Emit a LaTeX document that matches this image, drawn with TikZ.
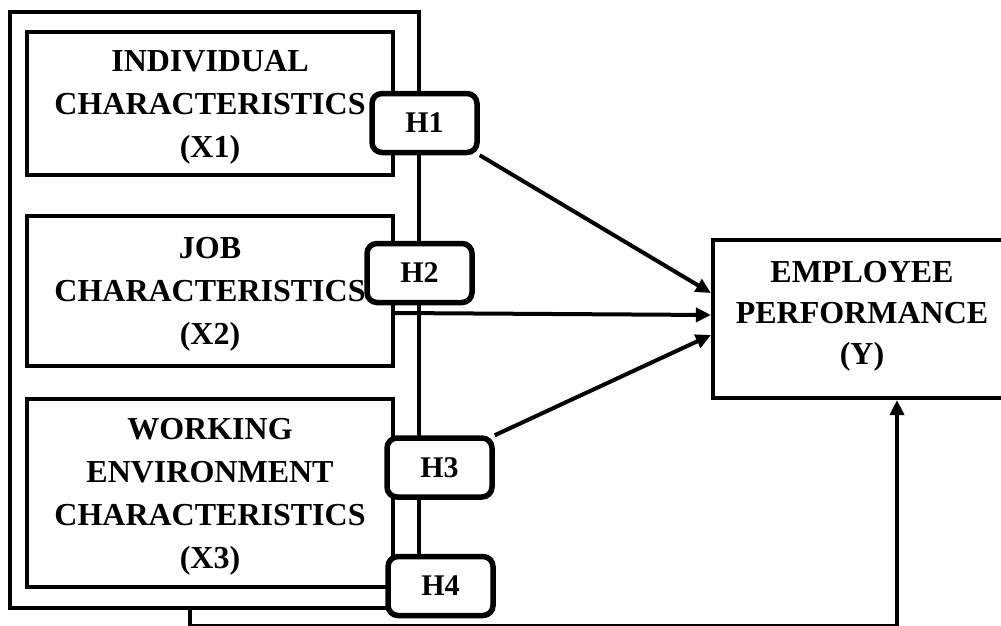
\documentclass[tikz,border=0pt]{standalone}
\usepackage{fontspec}
\setmainfont{Liberation Serif}
\usetikzlibrary{arrows.meta}
\begin{document}
\begin{tikzpicture}[x=1pt,y=-1pt,
  line width=4.2pt,
  varbox/.style={draw, rectangle, inner sep=0pt, align=center, text depth=0pt, font=\bfseries\fontsize{32}{43}\selectfont},
  plainbox/.style={draw, rectangle, inner sep=0pt},
  hbox/.style={draw, fill=white, rounded corners=10pt, line width=5.5pt, minimum width=105pt, minimum height=59pt, inner sep=0pt, font=\bfseries\fontsize{30}{34}\selectfont},
  ytext/.style={align=center, text depth=0pt, inner sep=0pt, font=\bfseries\fontsize{32}{41}\selectfont},
  arr/.style={-{Triangle[length=15pt,width=14pt]}, line width=4pt}
]
\useasboundingbox (0,0) rectangle (1001,626);
% independent variable boxes
\node[varbox, minimum width=366pt, minimum height=143pt] (X1) at (210,103.5) {INDIVIDUAL\\CHARACTERISTICS\\(X1)};
\node[varbox, minimum width=366pt, minimum height=150pt] (X2) at (210,291) {JOB\\CHARACTERISTICS\\(X2)};
\node[varbox, minimum width=366pt, minimum height=188pt] (X3) at (210,493) {WORKING\\ENVIRONMENT\\CHARACTERISTICS\\(X3)};
% outer frame
\node[plainbox, minimum width=409pt, minimum height=596pt] (outer) at (214.5,310) {};
% dependent variable
\node[plainbox, minimum width=298pt, minimum height=158pt] (Y) at (862,319) {};
\node[ytext] (Ytxt) at (862,312.5) {EMPLOYEE\\PERFORMANCE\\(Y)};
% hypothesis labels
\node[hbox] (H1) at (424.5,123) {H1};
\node[hbox] (H2) at (419.5,273) {H2};
\node[hbox] (H3) at (439.5,467.5) {H3};
\node[hbox] (H4) at (440.5,586) {H4};
% arrows
\draw[arr] (H1.south east) -- ([yshift=26pt]Y.west);
\draw[arr] ([yshift=-22pt]X2.east) -- ([yshift=4pt]Y.west);
\draw[arr] (H3.north east) -- ([yshift=-16pt]Y.west);
\coordinate (bend) at (897,626.2);
\draw[arr] (outer.south -| 190,0) |- (bend) -- (bend |- Y.south);
\end{tikzpicture}
\end{document}
